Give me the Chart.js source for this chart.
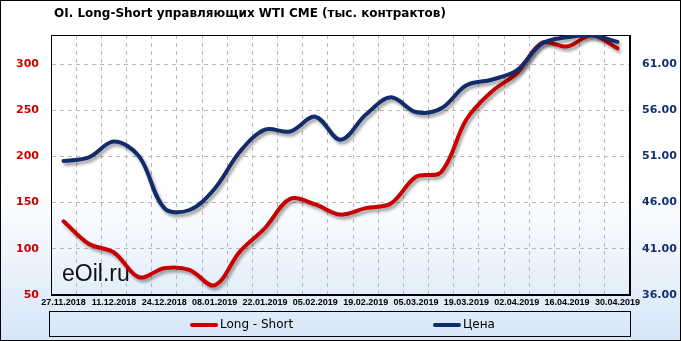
<!DOCTYPE html>
<html><head><meta charset="utf-8">
<script src="https://cdn.jsdelivr.net/npm/chart.js@4.4.1/dist/chart.umd.min.js"></script>
<style>
html,body{margin:0;padding:0;background:#fff;}
#wrap{position:relative;width:681px;height:341px;background:linear-gradient(to bottom,#ffffff 0%,#ffffff 55%,#d6e6f8 100%);overflow:hidden;}
#c{position:absolute;left:0;top:0;}
#frame{position:absolute;left:0;top:0;width:681px;height:341px;box-sizing:border-box;border:1px solid #000;pointer-events:none;}
#title{position:absolute;left:54px;top:6px;font:bold 12px/14px "DejaVu Sans",sans-serif;color:#000;white-space:nowrap;}
#legend{position:absolute;left:49px;top:311px;width:582px;height:26px;box-sizing:border-box;border:1px solid #000;}
.item{position:absolute;top:5px;font:12px/14px "DejaVu Sans",sans-serif;color:#000;white-space:nowrap;}
.sw{display:inline-block;width:28px;height:4px;border-radius:2px;vertical-align:middle;margin-right:2px;}
</style></head>
<body>
<div id="wrap">
  <canvas id="c" width="681" height="341"></canvas>
  <div id="title">OI. Long-Short управляющих WTI CME (тыс. контрактов)</div>
  <div id="legend"></div>
  <div id="frame"></div>
</div>
<script>
const dates = ["27.11.2018","04.12.2018","11.12.2018","18.12.2018","24.12.2018","31.12.2018","08.01.2019","15.01.2019","22.01.2019","29.01.2019","05.02.2019","12.02.2019","19.02.2019","26.02.2019","05.03.2019","12.03.2019","19.03.2019","26.03.2019","02.04.2019","09.04.2019","16.04.2019","23.04.2019","30.04.2019"];
const longShort = [129.7,105.4,96,69.2,79,77.2,60.5,97,122.5,154,148,137,144,149,178,183,240,270,290,323,319,331,317];
const price = [50.5,50.9,52.6,51.0,45.4,45.2,47.5,51.5,53.9,53.7,55.3,52.8,55.5,57.4,55.8,56.2,58.7,59.3,60.3,63.2,63.9,64.1,63.4];
const leftTicks = [50,100,150,200,250,300];
const rightTicks = [36,41,46,51,56,61];
const seriesNames = ["Long - Short","Цена"];
const colors = ["#c80000","#112b6b"];

// HTML legend
const lg = document.getElementById('legend');
const itemLeft = [140, 383];
seriesNames.forEach((n,i)=>{
  const d = document.createElement('div');
  d.className='item'; d.style.left=itemLeft[i]+'px';
  d.innerHTML='<span class="sw" style="background:'+colors[i]+'"></span>'+n;
  lg.appendChild(d);
});

const decor = {
  id:'decor',
  beforeDatasetsDraw(chart){
    const {ctx, chartArea:a} = chart;
    ctx.save();
    ctx.font = '23px "Liberation Sans", Arial, sans-serif';
    ctx.fillStyle = '#111';
    ctx.textBaseline = 'alphabetic';
    ctx.fillText('eOil.ru', 62, 281);
    ctx.strokeStyle = '#000'; ctx.lineWidth = 1;
    ctx.strokeRect(Math.round(a.left)+0.5, Math.round(a.top)+0.5, Math.round(a.right-a.left)-1, Math.round(a.bottom-a.top)-1);
    ctx.restore();
  },
  beforeDatasetDraw(chart){
    const ctx = chart.ctx;
    ctx.save();
    ctx.shadowColor='rgba(0,0,0,0.35)';
    ctx.shadowOffsetX=2; ctx.shadowOffsetY=3; ctx.shadowBlur=3;
  },
  afterDatasetDraw(chart){ chart.ctx.restore(); }
};

new Chart(document.getElementById('c'), {
  type:'line',
  data:{
    labels: dates,
    datasets:[
      {label:seriesNames[0], data:longShort, yAxisID:'y', borderColor:colors[0], borderWidth:4, pointRadius:0, tension:0.35, order:1, borderCapStyle:'round'},
      {label:seriesNames[1], data:price, yAxisID:'y1', borderColor:colors[1], borderWidth:4, pointRadius:0, tension:0.35, order:0, borderCapStyle:'round'}
    ]
  },
  options:{
    responsive:false, animation:false, devicePixelRatio:1,
    layout:{padding:{top:35,left:0,right:0,bottom:0}},
    plugins:{legend:{display:false}, title:{display:false}, tooltip:{enabled:false}},
    scales:{
      x:{
        type:'category', offset:true,
        grid:{offset:true, color:'#b8b8b8', lineWidth:1, drawTicks:false},
        border:{display:true, color:'#000', width:1, dash:[4,4]},
        ticks:{autoSkip:false, maxRotation:0, minRotation:0, padding:2, color:'#000',
          font:{family:'"Liberation Sans"', size:9, weight:'bold'},
          callback:function(v,i){ return i%2===0 ? this.getLabelForValue(v) : ''; }},
        afterFit(s){ s.height = 46; }
      },
      y:{
        position:'left', min:50, max:331.4,
        grid:{color:'#b8b8b8', lineWidth:1, drawTicks:false},
        border:{display:true, color:'#000', width:1, dash:[4,4]},
        ticks:{padding:12, color:'#cc0000', font:{family:'"DejaVu Sans"', size:11, weight:'bold'}},
        afterBuildTicks(s){ s.ticks = leftTicks.map(v=>({value:v})); },
        afterFit(s){ s.width = 51; }
      },
      y1:{
        position:'right', min:36, max:64.14,
        grid:{drawOnChartArea:false, drawTicks:false},
        border:{display:true, color:'#000', width:1},
        ticks:{padding:12, color:'#13306a', font:{family:'"DejaVu Sans"', size:11, weight:'bold'},
          callback:(v)=>Number(v).toFixed(2)},
        afterBuildTicks(s){ s.ticks = rightTicks.map(v=>({value:v})); },
        afterFit(s){ s.width = 51; }
      }
    }
  },
  plugins:[decor]
});
</script>
</body></html>
